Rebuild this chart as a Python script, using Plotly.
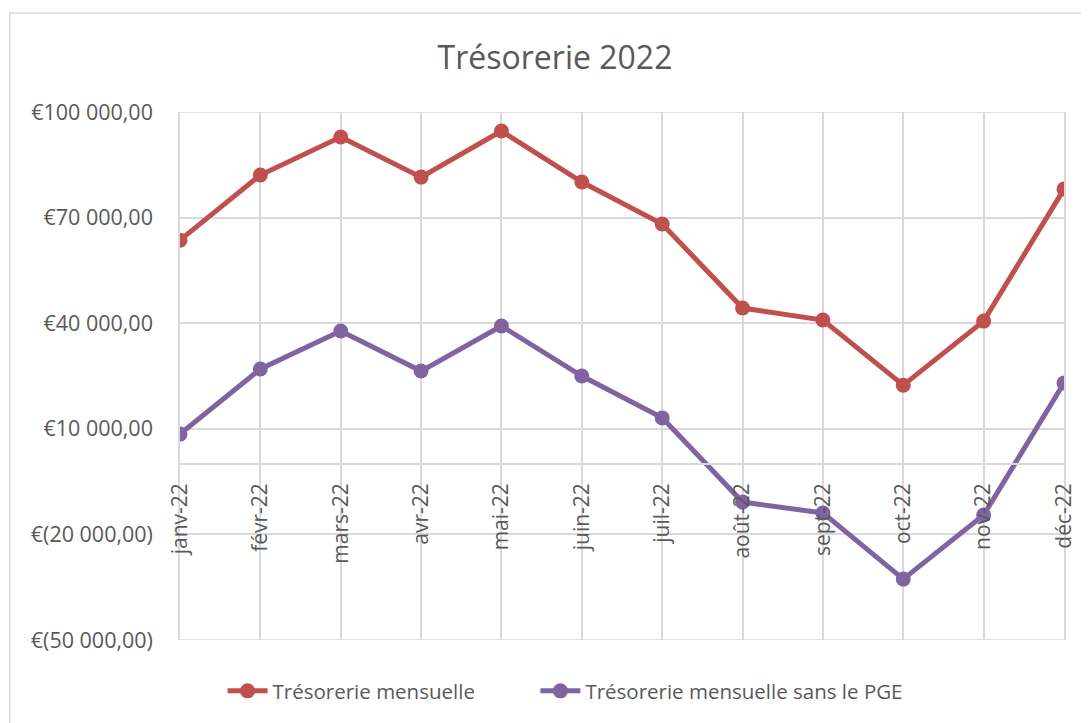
import plotly.graph_objects as go

months = ["janv-22", "févr-22", "mars-22", "avr-22", "mai-22", "juin-22",
          "juil-22", "août-22", "sept-22", "oct-22", "nov-22", "déc-22"]
tresorerie = [63600, 82100, 92900, 81500, 94600, 80100, 68200, 44300, 40900, 22400, 40600, 78100]
tresorerie_sans_pge = [8500, 27000, 37800, 26400, 39200, 25000, 13100, -10800, -13900, -32700, -14500, 23000]
y_tickvals = [-50000, -20000, 10000, 40000, 70000, 100000]
y_ticktext = ["€(50 000,00)", "€(20 000,00)", "€10 000,00", "€40 000,00", "€70 000,00", "€100 000,00"]

FONT = "Open Sans"
TXT = "#595959"
GRID = "#D9D9D9"

fig = go.Figure()
fig.add_trace(go.Scatter(x=months, y=tresorerie, mode="lines+markers",
                         name="Trésorerie mensuelle", legend="legend",
                         line=dict(color="#C0504D", width=5),
                         marker=dict(color="#C0504D", size=15)))
fig.add_trace(go.Scatter(x=months, y=tresorerie_sans_pge, mode="lines+markers",
                         name="Trésorerie mensuelle sans le PGE", legend="legend2",
                         line=dict(color="#8064A2", width=5),
                         marker=dict(color="#8064A2", size=15)))

OFF = 8  # page body margin
W, H = 1089 - OFF, 723 - OFF
L, R, T, B = 180 - OFF, 16, 112 - OFF, 83
pw = W - L - R
ph = H - T - B


def py(y):
    """reference page pixel y -> paper fraction"""
    return ((T + ph) - (y - OFF)) / ph


def px(x):
    return ((x - OFF) - L) / pw


leg_common = dict(orientation="h", yanchor="middle", xanchor="left",
                  font=dict(size=20.5, color=TXT, family=FONT),
                  itemwidth=40, bgcolor="rgba(0,0,0,0)")

fig.update_layout(
    width=W, height=H,
    margin=dict(l=L, r=R, t=T, b=B),
    paper_bgcolor="white", plot_bgcolor="white",
    font=dict(family=FONT, color=TXT, size=21),
    title=dict(text="Trésorerie 2022", x=(555 - OFF) / W, xref="container", xanchor="center",
               y=1 - (58 - OFF) / H, yref="container", yanchor="middle",
               font=dict(size=32, color=TXT, family=FONT)),
    showlegend=True,
    legend=dict(x=px(223), y=py(691), **leg_common),
    legend2=dict(x=px(539), y=py(691), **leg_common),
    xaxis=dict(type="category", range=[0, len(months) - 1],
               showgrid=True, gridcolor=GRID, gridwidth=1.5,
               showline=True, linecolor=GRID, linewidth=1.5,
               anchor="free", position=(0 - (-50000)) / 150000,
               tickangle=-90, ticks="", ticklabelstandoff=10,
               tickfont=dict(size=21, color=TXT, family=FONT),
               zeroline=False, fixedrange=True),
    yaxis=dict(range=[-50000, 100000], tickvals=y_tickvals, ticktext=y_ticktext,
               showgrid=True, gridcolor=GRID, gridwidth=1.5,
               showline=True, mirror=True, linecolor=GRID, linewidth=1.5,
               zeroline=False, ticks="",
               tickfont=dict(size=21.5, color=TXT, family=FONT),
               ticklabelstandoff=21, fixedrange=True),
)

# bottom/top plot-area edges (grid lines at the range limits)
for yv in (y_tickvals[0], y_tickvals[-1]):
    fig.add_shape(type="line", xref="paper", yref="y", x0=0, x1=1, y0=yv, y1=yv,
                  line=dict(color=GRID, width=1.5), layer="below")

fig.add_shape(type="rect", xref="paper", yref="paper",
              x0=px(8), x1=px(1100), y0=py(735), y1=py(13),
              line=dict(color=GRID, width=1.5), fillcolor="rgba(0,0,0,0)", layer="below")

fig.write_html("out.html")
